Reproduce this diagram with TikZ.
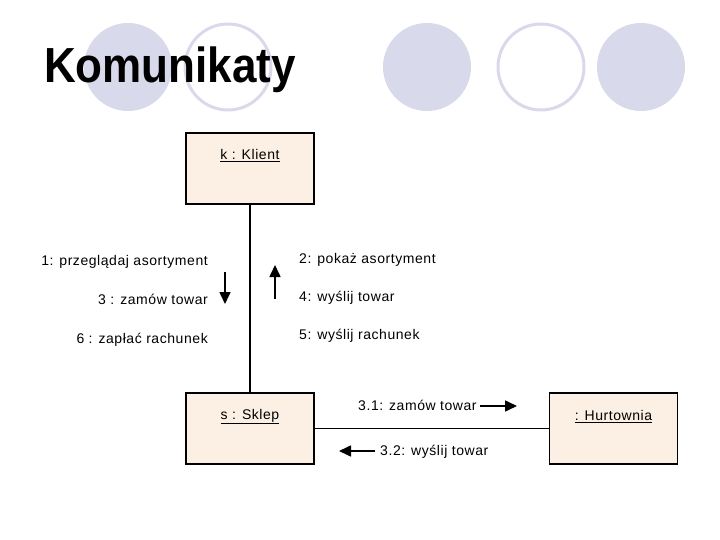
\documentclass[tikz,border=0pt]{standalone}
\usepackage{fontspec}
\setmainfont{Liberation Sans}
\newfontfamily\umlfont[LetterSpace=4]{Liberation Sans}
\usetikzlibrary{arrows.meta,positioning,calc}
\definecolor{softbeige}{RGB}{251,240,227}
\definecolor{softlilac}{RGB}{217,217,236}
\tikzset{
  obj/.style={rectangle, draw=black, line width=1.5pt, fill=softbeige, minimum width=128pt, minimum height=71pt, inner sep=0pt},
  objname/.style={anchor=base, font=\umlfont\fontsize{14}{16}\selectfont, inner sep=0pt},
  msg/.style={font=\umlfont\fontsize{14}{16}\selectfont, inner sep=0pt},
  link/.style={line width=1.2pt, draw=black},
  flow/.style={-{Triangle[length=12pt,width=11pt]}, line width=1.6pt},
  blob/.style={fill=softlilac, draw=none},
  ring/.style={draw=softlilac, line width=3pt}
}

\begin{document}
\begin{tikzpicture}[x=1pt, y=-1pt]
\useasboundingbox (0,0) rectangle (720,540);
% circles at the top
\fill[blob] (128,67) circle (44pt);
\draw[ring] (228,67) circle (43pt);
\fill[blob] (427,67) circle (44pt);
\draw[ring] (541,67) circle (43pt);
\fill[blob] (641,67) circle (44pt);
\node[anchor=base west, font=\bfseries\fontsize{44}{50}\selectfont, inner sep=0pt, yscale=1.12, transform shape] (title) at (44,83) {Komunikaty};
% objects
\node[obj] (k) at (250,168.5) {};
\node[obj] (s) at (250,428.5) {};
\node[obj] (h) at (613.5,428.5) {};
\node[objname] (kname) at ($(k.north)+(0,27)$) {\underline{k : Klient}};
\node[objname] (sname) at ($(s.north)+(0,27)$) {\underline{s : Sklep}};
\node[objname] (hname) at ($(h.north)+(0,28)$) {\underline{: Hurtownia}};
\draw[link] (k) -- (s);
\draw[link] (s) -- (h);
% messages Klient - Sklep
\node[msg, anchor=base east] (m1) at (208,265) {1: przeglądaj asortyment};
\node[msg, anchor=base east] (m3) at (208,304) {3 : zamów towar};
\node[msg, anchor=base east] (m6) at (208,343) {6 : zapłać rachunek};
\node[msg, anchor=base west] (m2) at (299,263) {2: pokaż asortyment};
\node[msg, anchor=base west] (m4) at (299,301) {4: wyślij towar};
\node[msg, anchor=base west] (m5) at (299,339) {5: wyślij rachunek};
\coordinate (d1) at (225,272); \coordinate (d2) at (225,304);
\coordinate (u1) at (275,299); \coordinate (u2) at (275,265);
\draw[flow] (d1) -- (d2);
\draw[flow] (u1) -- (u2);
% messages Sklep - Hurtownia
\node[msg, anchor=base west] (m31) at (358,410) {3.1: zamów towar};
\node[msg, anchor=base west] (m32) at (380,455) {3.2: wyślij towar};
\coordinate (r1) at (480,406); \coordinate (r2) at (517,406);
\coordinate (l1) at (375,451); \coordinate (l2) at (339,451);
\draw[flow] (r1) -- (r2);
\draw[flow] (l1) -- (l2);
\end{tikzpicture}
\end{document}
